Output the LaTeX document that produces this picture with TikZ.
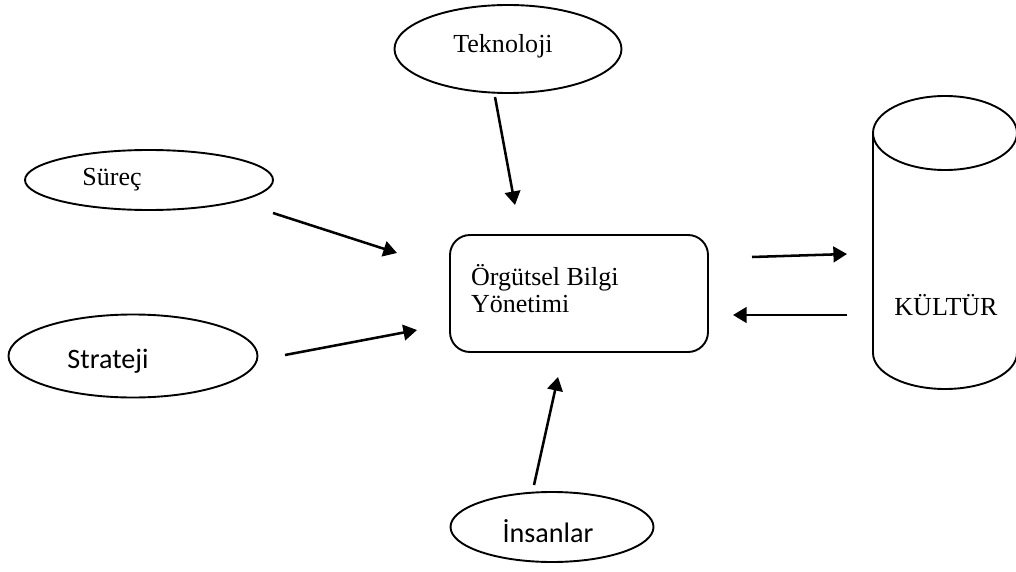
\documentclass[tikz,border=0pt]{standalone}
\usepackage{fontspec}
\setmainfont{Liberation Serif}
\newfontfamily\calibri{Carlito}
\usetikzlibrary{shapes.geometric,arrows.meta}

% one unit of the grid
\newcommand\pxl{0.025cm}

\tikzset{
  oval/.style={draw, ellipse, line width=1.35pt, inner sep=0pt},
  flow/.style={-{Triangle[length=0.34cm,width=0.39cm]}, line width=1.8pt},
  serif/.style={font=\fontsize{18.5}{19.4}\selectfont},
  sans/.style={font=\calibri\fontsize{20}{24}\selectfont},
}

\begin{document}
\begin{tikzpicture}[x=\pxl, y=-\pxl]
  \useasboundingbox (0,0) rectangle (1016,571);

  % the four sources
  \node[oval, minimum width=227*\pxl, minimum height=88*\pxl,
        label={[serif, xshift=-5*\pxl, yshift=3*\pxl]center:Teknoloji}] (tekno) at (508,49) {};
  \node[oval, minimum width=248*\pxl, minimum height=60*\pxl,
        label={[serif, xshift=-37*\pxl]center:Süreç}] (surec) at (149,180) {};
  \node[oval, minimum width=249*\pxl, minimum height=83*\pxl,
        label={[sans, xshift=-25*\pxl, yshift=-5*\pxl]center:Strateji}] (strat) at (133,356) {};
  \node[oval, minimum width=203*\pxl, minimum height=70*\pxl,
        label={[sans, xshift=-4*\pxl, yshift=-4*\pxl]center:İnsanlar}] (insan) at (552,527) {};

  % centre box
  \node[draw, rounded corners=20*\pxl, line width=1.35pt,
        minimum width=258*\pxl, minimum height=117*\pxl,
        label={[serif, align=left, anchor=north west, xshift=17*\pxl, yshift=-25*\pxl]north west:Örgütsel Bilgi\\Yönetimi}]
        (obm) at (579,293.5) {};

  % culture cylinder
  \draw[line width=1.35pt] (945,133) ellipse [x radius=72, y radius=37];
  \draw[line width=1.35pt] (873,133) -- (873,353)
    arc[start angle=180, end angle=0, x radius=72, y radius=36] -- (1017,133);
  \node[serif] (kultur) at (946,305) {KÜLTÜR};

  % arrow ends
  \coordinate (tek-a) at (495,97);   \coordinate (tek-b) at (515,205);
  \coordinate (sur-a) at (273,213);  \coordinate (sur-b) at (397,253);
  \coordinate (str-a) at (285,355);  \coordinate (str-b) at (417,330);
  \coordinate (ins-a) at (534,485);  \coordinate (ins-b) at (558,377);
  \coordinate (out-a) at (752,257);  \coordinate (out-b) at (847,254);
  \coordinate (in-a)  at (847,315);  \coordinate (in-b)  at (733,315);

  \draw[flow] (tek-a) -- (tek-b);
  \draw[flow] (sur-a) -- (sur-b);
  \draw[flow] (str-a) -- (str-b);
  \draw[flow] (ins-a) -- (ins-b);
  \draw[flow] (out-a) -- (out-b);
  \draw[flow] (in-a) -- (in-b);
\end{tikzpicture}
\end{document}
